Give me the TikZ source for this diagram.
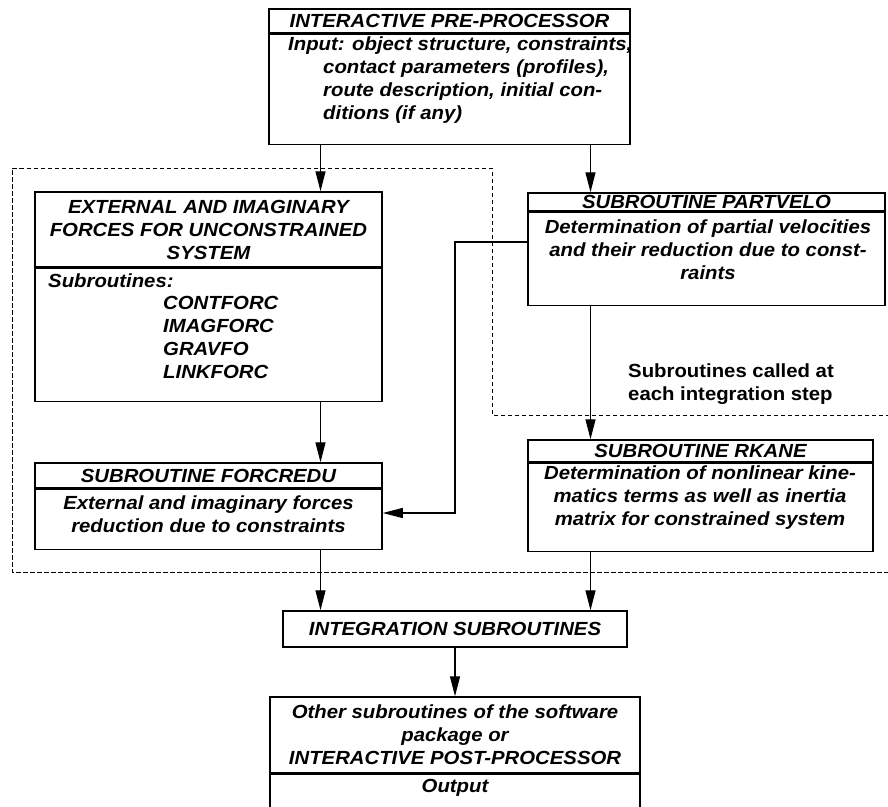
\documentclass[tikz,border=0pt]{standalone}
\usepackage{fontspec}
\setmainfont{Liberation Sans}[FakeStretch=1.07]
\usetikzlibrary{arrows.meta,positioning}

\begin{document}
\begin{tikzpicture}[x=1pt,y=-1pt,
  font=\fontsize{19}{23}\selectfont\bfseries\itshape,
  box/.style={rectangle,draw,line width=1.5pt,inner sep=0pt,align=center},
  txt/.style={inner sep=0pt},
  conn/.style={line width=1.3pt,-{Triangle[length=20pt,width=10pt]}},
  zone/.style={line width=1pt,dash pattern=on 4.5pt off 2.5pt}]
\useasboundingbox (0,0) rectangle (888,806);
\draw [zone] (890,415) -- (492,415) -- (492,168) -- (12,168) -- (12,572) -- (890,572);
\node (pre) at (449.5,21) [box,minimum width=361pt,minimum height=24pt] {INTERACTIVE PRE-PROCESSOR};
\node (prebody) [box,below=0pt of pre,minimum width=361pt,minimum height=110pt] {};
\node (pretxt) at (288,36.5) [txt,anchor=north west,align=left] {Input: object structure, constraints,\\
  \hspace*{35pt}contact parameters (profiles),\\
  \hspace*{35pt}route description, initial con-\\
  \hspace*{35pt}ditions (if any)};
\node (ext) at (208.5,229.5) [box,minimum width=347pt,minimum height=75pt] {EXTERNAL AND IMAGINARY\\ FORCES FOR UNCONSTRAINED\\ SYSTEM};
\node (extbody) [box,below=0pt of ext,minimum width=347pt,minimum height=133pt] {};
\node (subs) at (48,273.5) [txt,anchor=north west] {Subroutines:};
\node (sublist) at (163,296.5) [txt,anchor=north west,align=left] {CONTFORC\\ IMAGFORC\\ GRAVFO\\ LINKFORC};
\node (part) at (706.5,202) [box,minimum width=357pt,minimum height=18pt] {SUBROUTINE PARTVELO};
\node (partbody) [box,below=0pt of part,minimum width=357pt,minimum height=93pt] {};
\node (parttxt) at (708,220) [txt,anchor=north,align=center] {Determination of partial velocities\\ and their reduction due to const-\\ raints};
\node (steps) at (628,363.5) [txt,anchor=north west,align=left,font=\fontsize{19}{23}\selectfont\bfseries] {Subroutines called at\\ each integration step};
\node (forc) at (208.5,475.5) [box,minimum width=347pt,minimum height=25pt] {SUBROUTINE FORCREDU};
\node (forcbody) [box,below=0pt of forc,minimum width=347pt,minimum height=60pt] {};
\node (forctxt) at (208.5,495.5) [txt,anchor=north,align=center] {External and imaginary forces\\ reduction due to constraints};
\node (rkane) at (700.5,451) [box,minimum width=345pt,minimum height=22pt] {SUBROUTINE RKANE};
\node (rkanebody) [box,below=0pt of rkane,minimum width=345pt,minimum height=88pt] {};
\node (rkanetxt) at (700,465.5) [txt,anchor=north,align=center] {Determination of nonlinear kine-\\ matics terms as well as inertia\\ matrix for constrained system};
\node (integ) at (455,629) [box,minimum width=344pt,minimum height=36pt] {INTEGRATION SUBROUTINES};
\node (post) at (455,735) [box,minimum width=370pt,minimum height=76pt] {Other subroutines of the software\\ package or\\ INTERACTIVE POST-PROCESSOR};
\node (postbody) [box,below=0pt of post,minimum width=370pt,minimum height=50pt] {};
\node (posttxt) at (455,779.5) [txt,anchor=north] {Output};
\coordinate (colA) at (320.5,0);
\coordinate (colB) at (590.5,0);
\coordinate (fbtop) at (455,242);
\coordinate (fbbot) at (455,513);
\draw [conn] (colA |- prebody.south) -- (colA |- ext.north);
\draw [conn] (colA |- extbody.south) -- (colA |- forc.north);
\draw [conn] (colA |- forcbody.south) -- (colA |- integ.north);
\draw [conn] (colB |- prebody.south) -- (colB |- part.north);
\draw [conn] (colB |- partbody.south) -- (colB |- rkane.north);
\draw [conn] (colB |- rkanebody.south) -- (colB |- integ.north);
\draw [conn] (integ.south) -- (post.north);
\draw [conn] (partbody.west |- fbtop) -- (fbtop) -- (fbbot) -- (forcbody.east |- fbbot);
\end{tikzpicture}
\end{document}
